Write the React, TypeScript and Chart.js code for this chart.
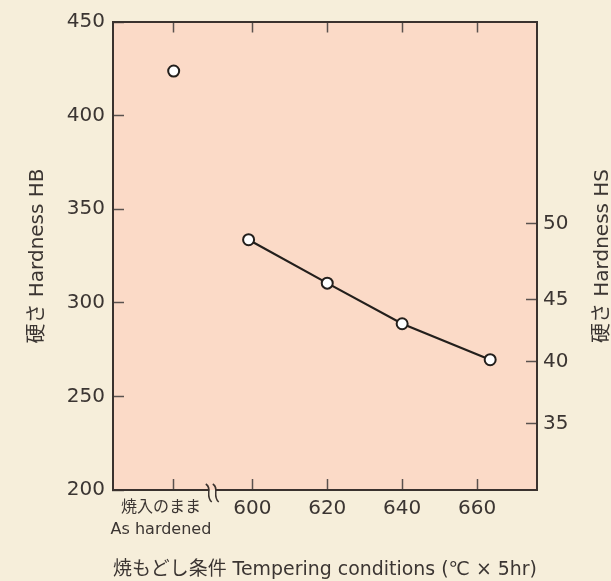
import React, { useEffect, useRef } from "react";
import { Chart, registerables } from "chart.js";

Chart.register(...registerables);

// ---- data ----
const hardenedLabel = ["焼入のまま", "As hardened"];
const hardenedX = [579];
const hardenedHB = [423.8];
const temperX = [599, 620, 640, 663.5];
const temperHB = [333.7, 310.5, 288.8, 269.6];
// bottom axis: the first tick only carries the "as hardened" caption (no mark)
const xLabelTickValues = [575.6, 579, 600, 620, 640, 660];
const xLabelTickLabels: (string | string[])[] = [hardenedLabel, "", "600", "620", "640", "660"];
const xMarkTickValues = [579, 600, 620, 640, 660];
const hbTickValues = [200, 250, 300, 350, 400, 450];
const hsTickLabels = ["35", "40", "45", "50"];
const hsTickHB = [235.3, 268.6, 301.6, 342.3];
const breakX = [589.3];

const xMin = 562.8;
const xMax = 676;
const yMin = 200;
const yMax = 450;

const yTitle = "硬さ Hardness HB";
const y2Title = "硬さ Hardness HS";
const xTitle = "焼もどし条件 Tempering conditions (℃ × 5hr)";

// ---- style ----
const CREAM = "#F6EEDA";
const PEACH = "#FBDAC7";
const AXIS = "#3a322e";
const TICK = "#5a524e";
const TEXT = "#3b3532";
const FAMILY = '"DejaVu Sans", "Noto Sans CJK JP", sans-serif';

const bgPlugin = {
  id: "bgPlugin",
  beforeDraw(chart: any) {
    const { ctx, chartArea, width, height } = chart;
    ctx.save();
    ctx.fillStyle = CREAM;
    ctx.fillRect(0, 0, width, height);
    ctx.fillStyle = PEACH;
    ctx.fillRect(chartArea.left, chartArea.top, chartArea.right - chartArea.left, chartArea.bottom - chartArea.top);
    ctx.restore();
  },
};

const decoPlugin = {
  id: "decoPlugin",
  afterDraw(chart: any) {
    const { ctx, chartArea } = chart;
    const x = chart.scales.x;
    const px = x.getPixelForValue(breakX[0]);
    const y = chartArea.bottom;
    ctx.save();
    // gap in axis
    ctx.fillStyle = PEACH;
    ctx.fillRect(px - 3, y - 1.5, 6, 1.5);
    ctx.fillStyle = CREAM;
    ctx.fillRect(px - 3, y, 6, 2);
    ctx.strokeStyle = AXIS;
    ctx.lineWidth = 1.5;
    for (const dx of [-3.5, 3.5]) {
      const cx = px + dx;
      ctx.beginPath();
      ctx.moveTo(cx - 3, y - 6);
      ctx.bezierCurveTo(cx + 4, y - 2, cx - 4, y + 6, cx + 3, y + 12);
      ctx.stroke();
    }
    // right axis title
    ctx.translate(602.5, (chartArea.top + chartArea.bottom) / 2);
    ctx.rotate(-Math.PI / 2);
    ctx.fillStyle = TEXT;
    ctx.font = `20px ${FAMILY}`;
    ctx.textAlign = "center";
    ctx.textBaseline = "middle";
    ctx.fillText(y2Title, 0, 0);
    ctx.restore();
  },
};

const noPad = (axis: any) => {
  axis.paddingTop = 0;
  axis.paddingBottom = 0;
  axis.paddingLeft = 0;
  axis.paddingRight = 0;
};

export default function App() {
  const ref = useRef<HTMLCanvasElement>(null);
  useEffect(() => {
    if (!ref.current) return;
    const gridOpts = {
      drawOnChartArea: false,
      drawTicks: true,
      tickLength: -11,
      tickWidth: 1.5,
      tickColor: TICK,
    };
    const borderOpts = { display: true, color: AXIS, width: 2 };
    const pointStyle = {
      pointRadius: 5.5,
      pointBorderWidth: 2,
      pointBackgroundColor: "#ffffff",
      pointBorderColor: "#231f1c",
    };
    const chart = new Chart(ref.current, {
      type: "scatter",
      data: {
        datasets: [
          {
            data: hardenedX.map((x, i) => ({ x, y: hardenedHB[i] })),
            showLine: false,
            ...pointStyle,
          },
          {
            data: temperX.map((x, i) => ({ x, y: temperHB[i] })),
            showLine: true,
            borderColor: "#231f1c",
            borderWidth: 2.2,
            ...pointStyle,
          },
        ],
      },
      options: {
        responsive: false,
        animation: false,
        layout: { padding: { top: 22, left: 0, right: 0, bottom: 0 } },
        plugins: { legend: { display: false }, tooltip: { enabled: false } },
        scales: {
          x: {
            type: "linear",
            position: "bottom",
            min: xMin,
            max: xMax,
            afterBuildTicks: (axis: any) => {
              axis.ticks = xLabelTickValues.map((v) => ({ value: v }));
            },
            afterFit: (axis: any) => {
              axis.height = 91;
              noPad(axis);
            },
            ticks: {
              autoSkip: false,
              maxRotation: 0,
              padding: 18,
              color: TEXT,
              font: (ctx: any) =>
                ctx.index === 0
                  ? { family: FAMILY, size: 16, lineHeight: 1.375 }
                  : { family: FAMILY, size: 20, lineHeight: 1.2 },
              callback: (_v: any, i: number) => xLabelTickLabels[i],
            },
            grid: {
              ...gridOpts,
              tickColor: (ctx: any) => (ctx.index === 0 ? "rgba(0,0,0,0)" : TICK),
            },
            border: borderOpts,
            title: {
              display: true,
              text: xTitle,
              color: TEXT,
              font: { family: FAMILY, size: 19, lineHeight: 1.2 },
              padding: { top: 0, bottom: 0 },
            },
          },
          x2: {
            type: "linear",
            position: "top",
            min: xMin,
            max: xMax,
            afterBuildTicks: (axis: any) => {
              axis.ticks = xMarkTickValues.map((v) => ({ value: v }));
            },
            afterFit: (axis: any) => {
              axis.height = 0;
              noPad(axis);
            },
            ticks: { autoSkip: false, callback: () => "" },
            grid: { ...gridOpts, tickLength: -10.5 },
            border: borderOpts,
          },
          y: {
            type: "linear",
            position: "left",
            min: yMin,
            max: yMax,
            afterBuildTicks: (axis: any) => {
              axis.ticks = hbTickValues.map((v) => ({ value: v }));
            },
            afterFit: (axis: any) => {
              axis.width = 113;
              noPad(axis);
            },
            ticks: {
              padding: 19,
              color: TEXT,
              font: { family: FAMILY, size: 20 },
            },
            grid: gridOpts,
            border: borderOpts,
            title: {
              display: true,
              text: yTitle,
              color: TEXT,
              font: { family: FAMILY, size: 20, lineHeight: 1.2 },
              padding: { top: 26, bottom: 0 },
            },
          },
          yHS: {
            type: "linear",
            position: "right",
            min: yMin,
            max: yMax,
            afterBuildTicks: (axis: any) => {
              axis.ticks = hsTickHB.map((v) => ({ value: v }));
            },
            afterFit: (axis: any) => {
              axis.width = 74;
              noPad(axis);
            },
            ticks: {
              padding: 17,
              color: TEXT,
              font: { family: FAMILY, size: 20 },
              callback: (_v: any, i: number) => hsTickLabels[i],
            },
            grid: gridOpts,
            border: borderOpts,
          },
        },
      },
      plugins: [bgPlugin, decoPlugin],
    } as any);
    return () => chart.destroy();
  }, []);
  return (
    <div style={{ position: "absolute", left: 0, top: 0, width: 611, height: 581, background: CREAM }}>
      <canvas ref={ref} width={611} height={581} style={{ display: "block" }} />
    </div>
  );
}
